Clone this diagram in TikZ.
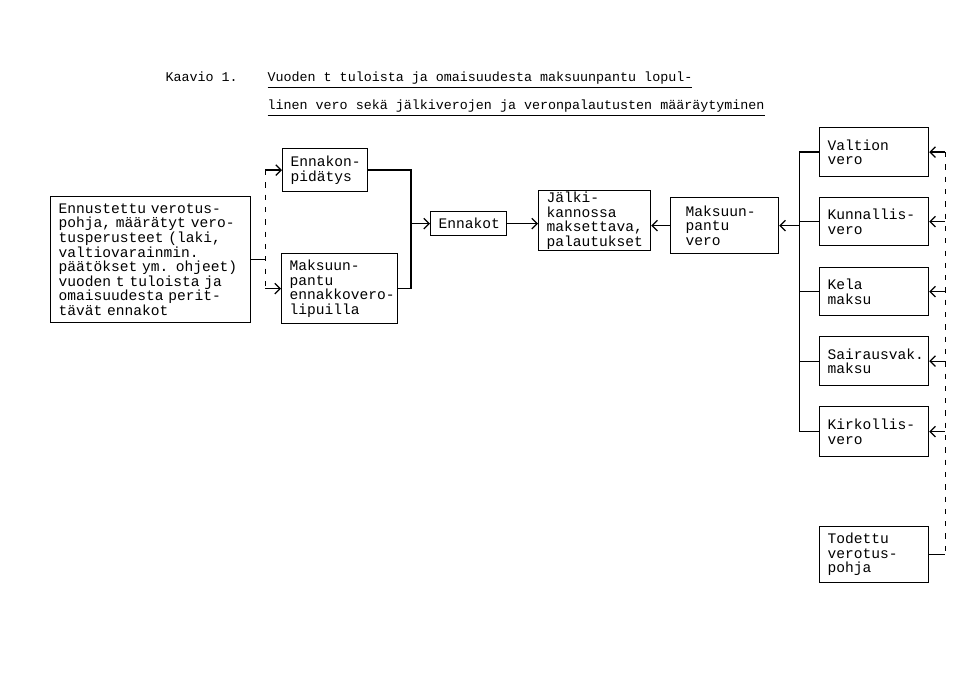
\documentclass[tikz,border=0pt]{standalone}
\usepackage{fontspec}
\setmonofont{Liberation Mono}
\usetikzlibrary{positioning,arrows.meta}

\begin{document}
\begin{tikzpicture}[
    line width=0.7pt,
    >={Straight Barb[length=3pt,width=6pt]},
    every node/.style={font=\ttfamily\fontsize{8.3}{8.3}\selectfont},
    box/.style={draw, anchor=north west, align=left, inner xsep=0.16cm, inner ysep=0pt},
    title/.style={anchor=base west, inner sep=0pt, font=\ttfamily\fontsize{7.6}{9}\selectfont},
    dash line/.style={dash pattern=on 3pt off 4pt}
]
    \useasboundingbox (0,0) rectangle (19.2,-13.66);

    \node[title] (kaavio) at (3.30,-1.64) {Kaavio 1.};
    \node[title] (title 1) at (5.34,-1.64) {\underline{Vuoden t tuloista ja omaisuudesta maksuunpantu lopul-}};
    \node[title] (title 2) at (5.34,-2.20) {\underline{linen vero sekä jälkiverojen ja veronpalautusten määräytyminen}};

    \node[box, text width=3.68cm, minimum height=2.52cm] (forecast) at (1.00,-3.92)
        {Ennustettu verotus-\\pohja, määrätyt vero-\\tusperusteet (laki,\\valtiovarainmin.\\päätökset ym. ohjeet)\\vuoden t tuloista ja\\omaisuudesta perit-\\tävät ennakot};
    \node[box, text width=1.38cm, minimum height=0.86cm] (withholding) at (5.64,-2.96) {Ennakon-\\pidätys};
    \node[box, text width=2.00cm, minimum height=1.40cm] (assessed prepay) at (5.62,-5.06) {Maksuun-\\pantu\\ennakkovero-\\lipuilla};
    \node[box, text width=1.20cm, minimum height=0.48cm] (prepayments) at (8.60,-4.22) {Ennakot};
    \node[box, text width=1.92cm, minimum height=1.20cm] (balance) at (10.76,-3.80) {Jälki-\\kannossa\\maksettava,\\palautukset};
    \node[box, inner xsep=0.30cm, text width=1.56cm, minimum height=1.12cm] (assessed tax) at (13.40,-3.94) {Maksuun-\\pantu\\vero};

    \node[box, text width=1.86cm, minimum height=0.98cm] (state tax) at (16.38,-2.54) {Valtion\\vero};
    \node[box, text width=1.86cm, minimum height=0.96cm] (municipal tax) at (16.38,-3.94) {Kunnallis-\\vero};
    \node[box, text width=1.86cm, minimum height=0.96cm] (kela fee) at (16.38,-5.34) {Kela\\maksu};
    \node[box, text width=1.86cm, minimum height=0.98cm] (sickness fee) at (16.38,-6.72) {Sairausvak.\\maksu};
    \node[box, text width=1.86cm, minimum height=1.00cm] (church tax) at (16.38,-8.12) {Kirkollis-\\vero};
    \node[box, text width=1.86cm, minimum height=1.12cm] (actual base) at (16.38,-10.52) {Todettu\\verotus-\\pohja};

    \coordinate[right=0.28cm of forecast.east] (split);
    \draw (forecast.east) -- (split);
    \draw[dash line] (split |- withholding.west) -- (split |- assessed prepay.west);
    \draw[->] (split |- withholding.west) -- (withholding.west);
    \draw[->] (split |- assessed prepay.west) -- (assessed prepay.west);

    \coordinate[left=0.38cm of prepayments.west] (join);
    \draw (withholding.east) -| (join) |- (assessed prepay.east);
    \draw[->] (join) -- (prepayments.west);
    \draw[->] (prepayments.east) -- (prepayments.east -| balance.west);
    \draw[->] (assessed tax.west) -- (assessed tax.west -| balance.east);

    \coordinate[right=0.40cm of assessed tax.east] (bus);
    \coordinate[right=0.32cm of actual base.east] (side);
    \draw (state tax.west -| bus) -- (church tax.west -| bus);
    \draw[->] (bus) -- (assessed tax.east);
    \draw[dash line] (state tax.east -| side) -- (side);
    \draw (actual base.east) -- (side);

    \foreach \b in {state tax, municipal tax, kela fee, sickness fee, church tax}{
        \draw (\b.west -| bus) -- (\b.west);
        \draw[->] (\b.east -| side) -- (\b.east);
    }
\end{tikzpicture}
\end{document}
